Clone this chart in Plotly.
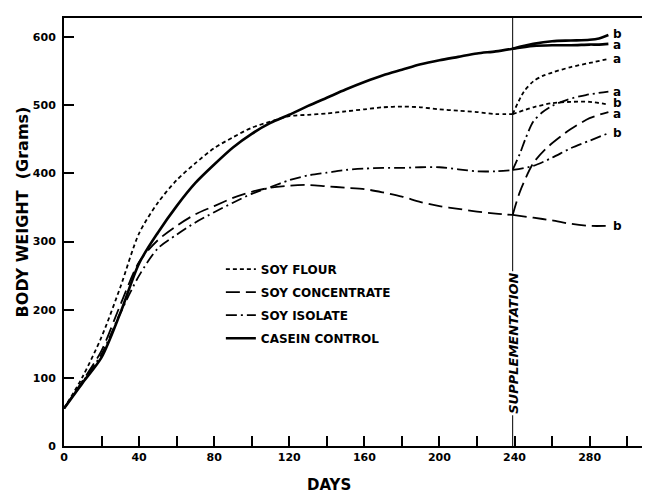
import plotly.graph_objects as go

# ---------------- data ----------------
days_pre = [0, 10, 20, 30, 40, 50, 60, 70, 80, 90, 100, 110, 120, 130, 140, 150,
            160, 170, 180, 190, 200, 210, 220, 230, 239]

soy_flour = [55, 102, 160, 233, 312, 357, 390, 415, 437, 453, 467, 476, 484, 486,
             488, 491, 494, 497, 498, 497, 494, 492, 490, 487, 487]
soy_concentrate = [55, 96, 140, 207, 270, 302, 323, 340, 352, 364, 373, 379, 382,
                   383, 381, 379, 377, 372, 366, 358, 352, 348, 344, 341, 339]
soy_isolate = [55, 94, 135, 195, 250, 290, 310, 328, 343, 357, 370, 380, 390, 397,
               401, 405, 407, 408, 408, 409, 409, 406, 403, 403, 405]
casein_control = [55, 93, 130, 195, 268, 313, 352, 386, 413, 438, 458, 474, 486,
                  499, 511, 523, 534, 544, 552, 560, 566, 571, 576, 579, 583]

# post-supplementation branches
flour_up_days = [239, 245, 250, 255, 260, 270, 280, 290]
flour_up = [487, 520, 535, 543, 548, 556, 562, 568]
flour_lo_days = [239, 250, 260, 270, 280, 290]
flour_lo = [487, 497, 503, 505, 505, 501]

conc_up_days = [239, 243, 250, 257, 265, 270, 280, 290]
conc_up = [339, 374, 415, 437, 455, 465, 481, 490]
conc_lo_days = [239, 250, 260, 270, 280, 290]
conc_lo = [339, 335, 331, 326, 323, 323]

iso_up_days = [239, 243, 246, 250, 255, 260, 268, 278, 290]
iso_up = [405, 430, 452, 476, 490, 499, 508, 515, 520]
iso_lo_days = [239, 250, 260, 270, 280, 290]
iso_lo = [405, 411, 423, 437, 448, 459]

cas_up_days = [239, 250, 260, 270, 280, 285, 290]
cas_up = [583, 590, 594, 595, 596, 598, 603]
cas_lo_days = [239, 250, 260, 270, 280, 285, 290]
cas_lo = [583, 587, 588, 588, 589, 589, 590]

letter_text = ["b", "a", "a", "a", "b", "a", "b", "b"]
letter_y = [605, 588, 568, 520, 503, 487, 459, 323]
letter_x = 292

supplementation_day = 239

x_ticks = list(range(0, 301, 20))
x_ticktext = [str(v) if v % 40 == 0 else "" for v in x_ticks]
y_ticks = [0, 100, 200, 300, 400, 500, 600]

names = ["SOY FLOUR", "SOY CONCENTRATE", "SOY ISOLATE", "CASEIN CONTROL"]

# ---------------- figure ----------------
FONT = "DejaVu Sans"
styles = {
    "SOY FLOUR": dict(dash="4px,3px", width=1.8),
    "SOY CONCENTRATE": dict(dash="14px,6px", width=1.8),
    "SOY ISOLATE": dict(dash="11px,4px,2px,4px", width=1.8),
    "CASEIN CONTROL": dict(dash="solid", width=2.6),
}

series = [
    ("SOY FLOUR", soy_flour, [(flour_up_days, flour_up), (flour_lo_days, flour_lo)]),
    ("SOY CONCENTRATE", soy_concentrate, [(conc_up_days, conc_up), (conc_lo_days, conc_lo)]),
    ("SOY ISOLATE", soy_isolate, [(iso_up_days, iso_up), (iso_lo_days, iso_lo)]),
    ("CASEIN CONTROL", casein_control, [(cas_up_days, cas_up), (cas_lo_days, cas_lo)]),
]

fig = go.Figure()
for name, ys, branches in series:
    st = styles[name]
    fig.add_trace(go.Scatter(
        x=days_pre, y=ys, mode="lines", name=name, legendgroup=name,
        line=dict(color="black", width=st["width"], dash=st["dash"],
                  shape="spline", smoothing=0.8),
    ))
    for bx, by in branches:
        fig.add_trace(go.Scatter(
            x=bx, y=by, mode="lines", name=name, legendgroup=name, showlegend=False,
            line=dict(color="black", width=st["width"], dash=st["dash"],
                      shape="spline", smoothing=0.8),
        ))

# supplementation line
fig.add_shape(type="line", xref="x", yref="y domain", x0=supplementation_day,
              x1=supplementation_day, y0=0, y1=1,
              line=dict(color="black", width=1))
fig.add_annotation(x=supplementation_day, y=151, text="<i><b>SUPPLEMENTATION</b></i>",
                   textangle=-90, showarrow=False, bgcolor="white",
                   font=dict(family=FONT, size=13, color="black"))

for t, yv in zip(letter_text, letter_y):
    fig.add_annotation(x=letter_x, y=yv, text="<b>%s</b>" % t, showarrow=False,
                       xanchor="left", height=10, valign="middle", borderpad=0,
                       font=dict(family=FONT, size=12, color="black"))

# axis titles
fig.add_annotation(xref="paper", yref="paper", x=0.456, y=-0.066, yanchor="top",
                   text="<b>DAYS</b>", showarrow=False,
                   font=dict(family=FONT, size=15, color="black"))
fig.add_annotation(xref="paper", yref="paper", x=-0.0714, y=0.547, xanchor="center",
                   text="<b>BODY WEIGHT  (Grams)</b>", textangle=-90, showarrow=False,
                   font=dict(family=FONT, size=16, color="black"))

fig.update_layout(
    width=650, height=493,
    margin=dict(l=56, r=13, t=8, b=54.5),
    paper_bgcolor="white", plot_bgcolor="white",
    font=dict(family=FONT, color="black"),
    legend=dict(x=0.27, y=0.447, xanchor="left", yanchor="top",
                bgcolor="rgba(0,0,0,0)", tracegroupgap=4,
                traceorder="grouped",
                font=dict(family=FONT, size=12, color="black", weight="bold")),
    showlegend=True,
)
fig.update_xaxes(range=[0, 309.5], tickvals=x_ticks, ticktext=x_ticktext,
                 ticks="inside", ticklen=10, tickwidth=1.5, tickcolor="black",
                 showline=True, linewidth=2, linecolor="black", mirror=True,
                 showgrid=False, zeroline=False,
                 tickfont=dict(family=FONT, size=11, color="black", weight="bold"))
fig.update_yaxes(range=[0, 628], tickvals=y_ticks,
                 ticks="inside", ticklen=10, tickwidth=1.5, tickcolor="black",
                 showline=True, linewidth=2, linecolor="black",
                 showgrid=False, zeroline=False, ticklabelstandoff=4,
                 tickfont=dict(family=FONT, size=11, color="black", weight="bold"))

fig.write_html("out.html")
